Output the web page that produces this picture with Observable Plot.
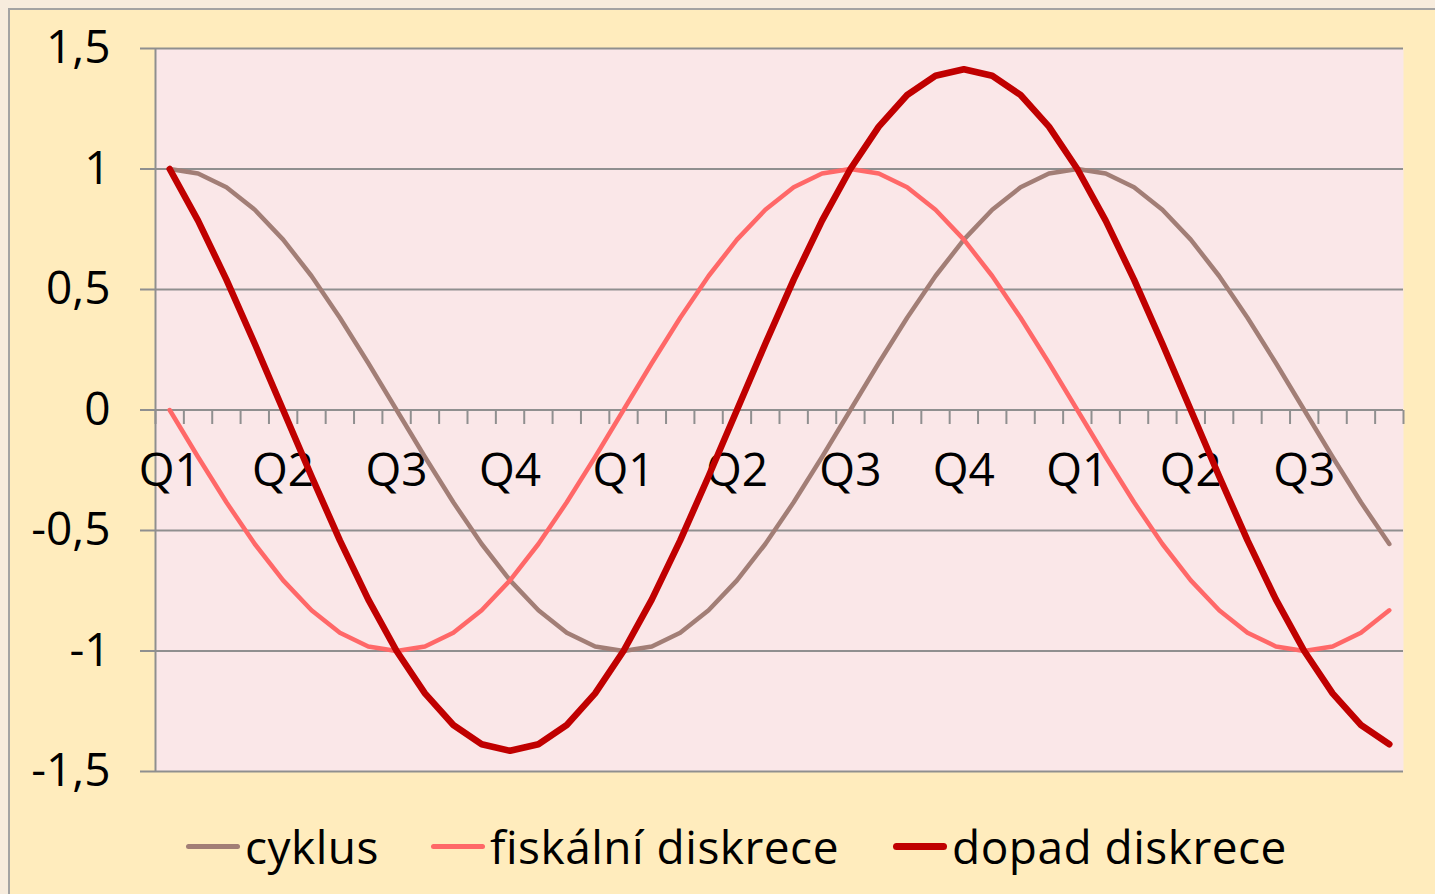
<!DOCTYPE html>
<html>
<head>
<meta charset="utf-8">
<script src="https://cdn.jsdelivr.net/npm/d3@7"></script>
<script src="https://cdn.jsdelivr.net/npm/@observablehq/plot@0.6"></script>
<style>
html,body{margin:0;padding:0;width:1435px;height:894px;overflow:hidden;background:#F7ECDD;}
#frame{position:absolute;left:8px;top:8px;width:1460px;height:920px;border-left:2px solid #A3A3A3;border-top:2px solid #A3A3A3;background:#FFECBD;}
#chart{position:absolute;left:0;top:0;width:1435px;height:894px;font-family:"Open Sans",sans-serif;}
#chart svg g[aria-label="y-axis tick"]{stroke:#8F8F8F;stroke-width:2;}
#chart svg .tick line{stroke:#8F8F8F;stroke-width:2;}
#legend{position:absolute;left:0;top:798px;width:1435px;height:96px;font-size:46px;color:#000;white-space:nowrap;}
.item{position:absolute;top:0;height:96px;display:flex;align-items:center;letter-spacing:0.5px;}
.sw{display:inline-block;width:54px;border-radius:4px;margin-right:5px;}
</style>
</head>
<body>
<div id="frame"></div>
<div id="chart"></div>
<script>
// Series values (one per sub-period; 4 sub-periods per quarter)
const cyklus = [1,0.981,0.924,0.831,0.707,0.556,0.383,0.195,0,-0.195,-0.383,-0.556,-0.707,-0.831,-0.924,-0.981,-1,-0.981,-0.924,-0.831,-0.707,-0.556,-0.383,-0.195,0,0.195,0.383,0.556,0.707,0.831,0.924,0.981,1,0.981,0.924,0.831,0.707,0.556,0.383,0.195,0,-0.195,-0.383,-0.556];
const fiskalni = [0,-0.195,-0.383,-0.556,-0.707,-0.831,-0.924,-0.981,-1,-0.981,-0.924,-0.831,-0.707,-0.556,-0.383,-0.195,0,0.195,0.383,0.556,0.707,0.831,0.924,0.981,1,0.981,0.924,0.831,0.707,0.556,0.383,0.195,0,-0.195,-0.383,-0.556,-0.707,-0.831,-0.924,-0.981,-1,-0.981,-0.924,-0.831];
const dopad = [1,0.786,0.541,0.275,0,-0.275,-0.541,-0.786,-1,-1.176,-1.307,-1.387,-1.414,-1.387,-1.307,-1.176,-1,-0.786,-0.541,-0.275,0,0.275,0.541,0.786,1,1.176,1.307,1.387,1.414,1.387,1.307,1.176,1,0.786,0.541,0.275,0,-0.275,-0.541,-0.786,-1,-1.176,-1.307,-1.387];
const quarterLabels = ["Q1","Q2","Q3","Q4","Q1","Q2","Q3","Q4","Q1","Q2","Q3"];
const perQuarter = 4;
const yTicks = [-1.5,-1,-0.5,0,0.5,1,1.5];
const yTickLabels = ["-1,5","-1","-0,5","0","0,5","1","1,5"];
const seriesNames = ["cyklus","fiskální diskrece","dopad diskrece"];
const seriesColors = ["#A27E76","#FF6868","#C00000"];
const seriesWidths = [4.5,4.5,6.5];
const legendLeft = [186,431,893];

const n = cyklus.length;
const boundaries = d3.range(n + 1).map(i => i - 0.5);
const quarterTable = quarterLabels.map((q, k) => ({q, i: k * perQuarter}));
const allSeries = [cyklus, fiskalni, dopad];

const tickSymbol = {draw(ctx){ ctx.moveTo(0,0); ctx.lineTo(0,14); }};

const chart = Plot.plot({
  width: 1435, height: 800,
  marginLeft: 155, marginRight: 32, marginTop: 48, marginBottom: 29,
  style: {background: "transparent", fontFamily: "'Open Sans', sans-serif", fontSize: "46px", color: "#000", overflow: "visible"},
  x: {domain: [-0.5, n - 0.5], axis: null},
  y: {domain: [-1.5, 1.5], ticks: yTicks, tickFormat: d => yTickLabels[yTicks.indexOf(d)], tickSize: 15, tickPadding: 30, label: null},
  marks: [
    Plot.frame({fill: "#FAE7E8", stroke: "none"}),
    Plot.ruleY(yTicks, {stroke: "#8F8F8F", strokeWidth: 2}),
    Plot.ruleX([-0.5], {stroke: "#8F8F8F", strokeWidth: 2}),
    Plot.dot(boundaries, {x: d => d, y: () => 0, symbol: tickSymbol, stroke: "#8F8F8F", strokeWidth: 2, fill: "none"}),
    Plot.text(quarterTable, {x: "i", y: () => 0, text: "q", dy: 61, fontSize: 46, fill: "#000"}),
    ...allSeries.map((s, k) => Plot.line(s, {x: (d, i) => i, y: d => d, stroke: seriesColors[k], strokeWidth: seriesWidths[k], strokeLinejoin: "round", strokeLinecap: "round"}))
  ]
});
document.getElementById("chart").appendChild(chart);

const legend = document.createElement("div");
legend.id = "legend";
seriesNames.forEach((name, k) => {
  const it = document.createElement("div");
  it.className = "item";
  it.style.left = legendLeft[k] + "px";
  const sw = document.createElement("span");
  sw.className = "sw";
  sw.style.background = seriesColors[k];
  sw.style.height = (seriesWidths[k] + 0.5) + "px";
  const tx = document.createElement("span");
  tx.textContent = name;
  it.appendChild(sw); it.appendChild(tx);
  legend.appendChild(it);
});
document.getElementById("chart").appendChild(legend);
</script>
</body>
</html>
